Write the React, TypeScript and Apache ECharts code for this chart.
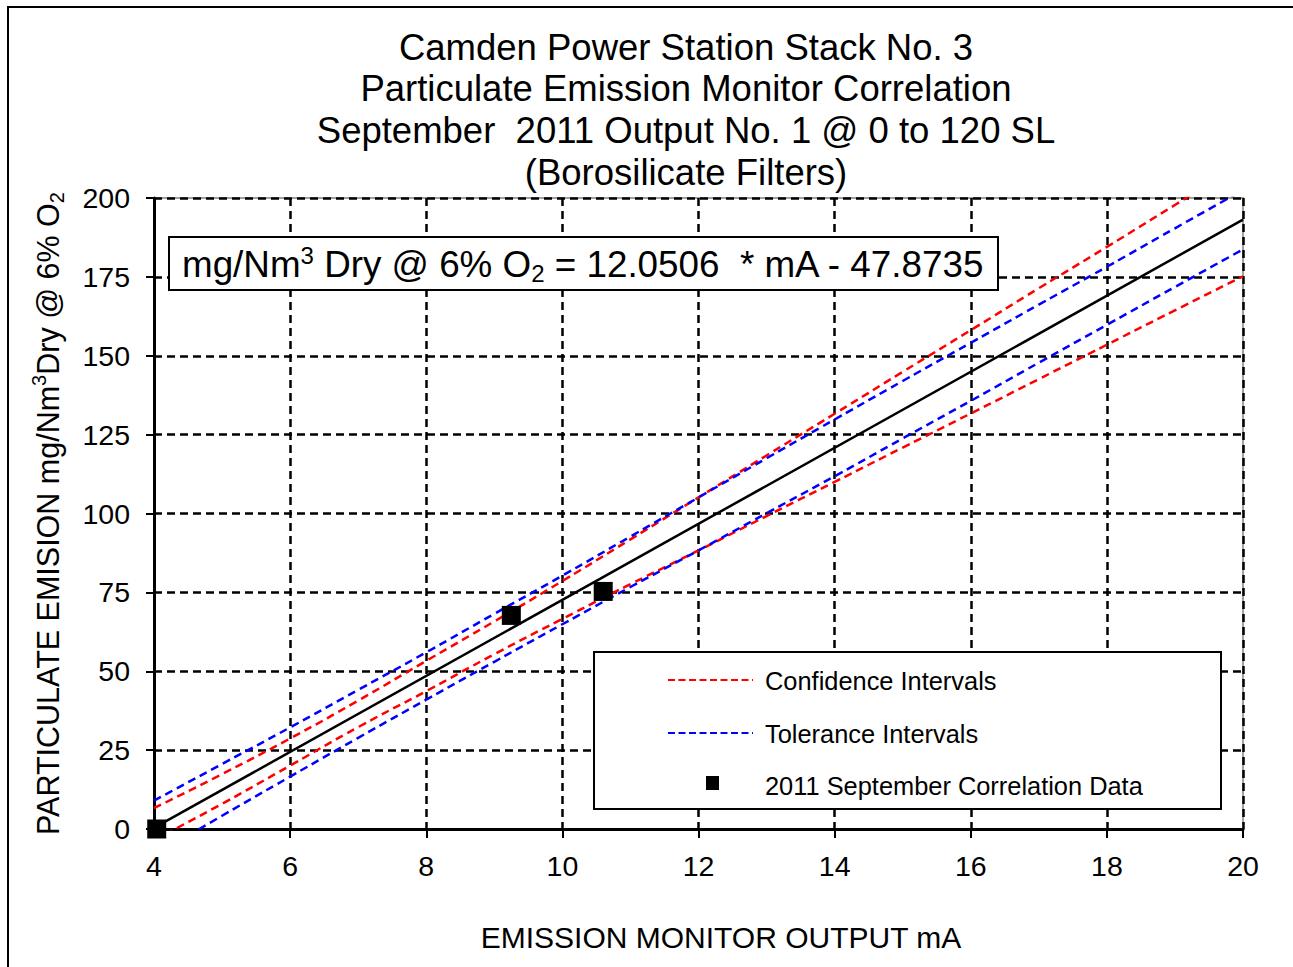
import React, { useEffect, useRef } from 'react';
import * as echarts from 'echarts';

const FONT = 'Liberation Sans, Arial, sans-serif';

const titleLines = [
  'Camden Power Station Stack No. 3',
  'Particulate Emission Monitor Correlation',
  'September  2011 Output No. 1 @ 0 to 120 SL',
  '(Borosilicate Filters)',
];

const xTicks = [4, 6, 8, 10, 12, 14, 16, 18, 20];
const yTicks = [0, 25, 50, 75, 100, 125, 150, 175, 200];

const bandX = [4, 5, 6, 7, 8, 9, 10, 11, 12, 13, 14, 15, 16, 17, 18, 19, 20];
const regressionX = [4, 20];
const regressionY = [0.33, 193.14];
const confUpper = [6.6, 17.4, 28.7, 40.7, 53.3, 65.8, 78.6, 91.8, 105.1, 118.4, 131.6, 144.9, 158.1, 171.4, 184.5, 197.8, 211.0];
const confLower = [-3.5, 8.0, 20.1, 32.3, 43.7, 55.4, 66.6, 77.6, 88.3, 99.2, 110.0, 120.9, 131.7, 142.6, 153.5, 164.4, 175.2];
const tolUpper = [9.0, 20.6, 32.2, 44.1, 56.0, 68.2, 80.3, 92.7, 105.1, 117.5, 129.8, 142.0, 154.1, 166.2, 178.2, 190.4, 202.5];
const tolLower = [-8.4, 4.2, 16.6, 28.9, 41.0, 53.0, 64.9, 76.7, 88.3, 100.1, 111.8, 123.8, 135.7, 147.8, 159.8, 171.8, 183.7];
const dataX = [4.04, 9.25, 10.6];
const dataY = [0, 67.7, 75.3];

const legendLabels = ['Confidence Intervals', 'Tolerance Intervals', '2011 September Correlation Data'];

const zip = (xs: number[], ys: number[]) => xs.map((x, i) => [x, ys[i]]);

export default function App() {
  const ref = useRef<HTMLDivElement>(null);
  useEffect(() => {
    if (!ref.current) return;
    const chart = echarts.init(ref.current, undefined, { renderer: 'svg' });
    const dash = [8, 5];
    const option: any = {
      animation: false,
      backgroundColor: '#fff',
      grid: {
        left: 154, top: 198, right: 50, bottom: 138,
        show: true, borderColor: '#a0a0a0', borderWidth: 2, backgroundColor: 'transparent',
      },
      xAxis: {
        type: 'value', min: 4, max: 20, interval: 2,
        data: xTicks,
        name: 'EMISSION MONITOR OUTPUT mA',
        nameLocation: 'middle', nameGap: 93,
        nameTextStyle: { fontFamily: FONT, fontSize: 30, color: '#000', padding: [0, 0, 0, 45] },
        axisLine: { onZero: false, lineStyle: { color: '#000', width: 3 } },
        axisTick: { show: true, length: 9, lineStyle: { color: '#000', width: 2 } },
        axisLabel: { fontFamily: FONT, fontSize: 28.5, color: '#000', margin: 22 },
        splitLine: { show: true, lineStyle: { color: '#000', width: 2.5, type: dash } },
      },
      yAxis: {
        type: 'value', min: 0, max: 200, interval: 25,
        name: '{a|PARTICULATE EMISION mg/Nm}{sup|3}{a|Dry @ 6% O}{sub|2}',
        nameLocation: 'middle', nameGap: 87, nameRotate: 90,
        nameTextStyle: {
          fontFamily: FONT, fontSize: 30.5, color: '#000',
          rich: {
            a: { fontFamily: FONT, fontSize: 30.5, lineHeight: 38, color: '#000' },
            sup: { fontFamily: FONT, fontSize: 20, lineHeight: 24, verticalAlign: 'top', color: '#000' },
            sub: { fontFamily: FONT, fontSize: 20, lineHeight: 22, verticalAlign: 'bottom', color: '#000' },
          },
        },
        axisLine: { show: true, onZero: false, lineStyle: { color: '#000', width: 3 } },
        axisTick: { show: true, length: 8, lineStyle: { color: '#000', width: 2 } },
        axisLabel: { fontFamily: FONT, fontSize: 28.5, color: '#000', margin: 24 },
        splitLine: { show: true, lineStyle: { color: '#000', width: 2.5, type: dash } },
      },
      series: [
        {
          name: 'Regression', type: 'line', data: zip(regressionX, regressionY),
          symbol: 'none', lineStyle: { color: '#000', width: 2.5 }, z: 5,
        },
        {
          name: 'Confidence Intervals', type: 'line', data: zip(bandX, confUpper), smooth: true,
          symbol: 'none', lineStyle: { color: '#ff0000', width: 2.5, type: dash }, z: 4,
        },
        {
          name: 'Confidence Intervals Lower', type: 'line', data: zip(bandX, confLower), smooth: true,
          symbol: 'none', lineStyle: { color: '#ff0000', width: 2.5, type: dash }, z: 4,
        },
        {
          name: 'Tolerance Intervals', type: 'line', data: zip(bandX, tolUpper), smooth: true,
          symbol: 'none', lineStyle: { color: '#0000ff', width: 2.5, type: dash }, z: 4,
        },
        {
          name: 'Tolerance Intervals Lower', type: 'line', data: zip(bandX, tolLower), smooth: true,
          symbol: 'none', lineStyle: { color: '#0000ff', width: 2.5, type: dash }, z: 4,
        },
        {
          name: '2011 September Correlation Data', type: 'scatter', data: zip(dataX, dataY),
          symbol: 'rect', symbolSize: 19, itemStyle: { color: '#000', opacity: 1 }, clip: false, z: 6,
        },
      ],
      graphic: {
        elements: [
          {
            type: 'rect', z: 0, silent: true,
            shape: { x: 8, y: 7, width: 1400, height: 1100 },
            style: { fill: 'none', stroke: '#000', lineWidth: 2 },
          },
          ...titleLines.map((t, i) => ({
            type: 'text', z: 100,
            x: 686, y: 47 + i * 41.7,
            style: { text: t, fontFamily: FONT, fontSize: 36.5, fill: '#000', textAlign: 'center', textVerticalAlign: 'middle' },
          })),
          {
            type: 'rect', z: 100,
            shape: { x: 169, y: 237, width: 829, height: 53 },
            style: { fill: '#fff', stroke: '#000', lineWidth: 2 },
          },
          {
            type: 'text', z: 101, x: 182, y: 264,
            style: {
              text: '{a|mg/Nm}{sup|3}{a| Dry @ 6% O}{sub|2}{a| = 12.0506  * mA - 47.8735}',
              textAlign: 'left', textVerticalAlign: 'middle',
              rich: {
                a: { fontFamily: FONT, fontSize: 36.8, lineHeight: 42, fill: '#000' },
                sup: { fontFamily: FONT, fontSize: 24, lineHeight: 30, verticalAlign: 'top', fill: '#000' },
                sub: { fontFamily: FONT, fontSize: 24, lineHeight: 26, verticalAlign: 'bottom', fill: '#000' },
              },
            },
          },
          {
            type: 'rect', z: 100,
            shape: { x: 594, y: 652, width: 627, height: 157 },
            style: { fill: '#fff', stroke: '#000', lineWidth: 2 },
          },
          {
            type: 'line', z: 101,
            shape: { x1: 668, y1: 680, x2: 753, y2: 680 },
            style: { stroke: '#ff0000', lineWidth: 2, lineDash: [7, 3.5] },
          },
          {
            type: 'line', z: 101,
            shape: { x1: 668, y1: 733, x2: 753, y2: 733 },
            style: { stroke: '#0000ff', lineWidth: 2, lineDash: [7, 3.5] },
          },
          {
            type: 'rect', z: 101,
            shape: { x: 706, y: 776, width: 13, height: 14 },
            style: { fill: '#000' },
          },
          ...legendLabels.map((t, i) => ({
            type: 'text', z: 101,
            x: 765, y: [681, 734, 786][i],
            style: { text: t, fontFamily: FONT, fontSize: 25.4, fill: '#000', textAlign: 'left', textVerticalAlign: 'middle' },
          })),
        ],
      },
    };
    chart.setOption(option);
    return () => chart.dispose();
  }, []);
  return (
    <div
      ref={ref}
      style={{ position: 'absolute', left: 0, top: 0, width: 1293, height: 967, background: '#fff' }}
    />
  );
}
